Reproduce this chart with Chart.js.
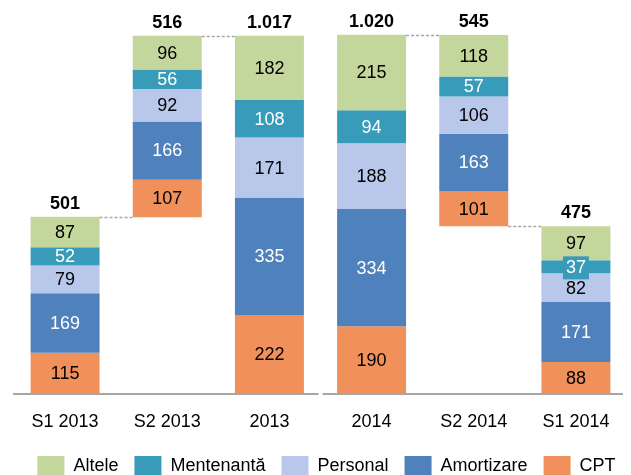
<!DOCTYPE html>
<html>
<head>
<meta charset="utf-8">
<script src="https://cdn.jsdelivr.net/npm/chart.js@4/dist/chart.umd.min.js"></script>
<style>
html,body{margin:0;padding:0;background:#fff;}
#wrap{width:631px;height:475px;}
</style>
</head>
<body>
<div id="wrap"><canvas id="c" width="631" height="475"></canvas></div>
<script>
const categories = ['S1 2013', 'S2 2013', '2013', '2014', 'S2 2014', 'S1 2014'];
const altele     = [87, 96, 182, 215, 118, 97];
const mentenanta = [52, 56, 108, 94, 57, 37];
const personal   = [79, 92, 171, 188, 106, 82];
const amortizare = [169, 166, 335, 334, 163, 171];
const cpt        = [115, 107, 222, 190, 101, 88];
const totals     = [501, 516, 1017, 1020, 545, 475];
const offsets    = [0, 501, 0, 0, 475, 0];
const totalLabels = ['501', '516', '1.017', '1.020', '545', '475'];
// connectors: [from category, to category, value]
const connectors = [[0, 1, 501], [1, 2, 1017], [3, 4, 1020], [4, 5, 475]];

const seriesNames  = ['Altele', 'Mentenantă', 'Personal', 'Amortizare', 'CPT'];
const seriesValues = [altele, mentenanta, personal, amortizare, cpt];
const seriesColors = ['#C3D69B', '#399BBA', '#B9C7EB', '#4F81BD', '#F0905A'];
const labelColors  = ['#000', '#fff', '#000', '#fff', '#000'];

// build floating ranges, stacking from bottom (CPT) up
const datasets = seriesNames.map((name, i) => {
  const data = categories.map((_, j) => {
    let start = offsets[j];
    for (let k = seriesValues.length - 1; k > i; k--) start += seriesValues[k][j];
    return [start, start + seriesValues[i][j]];
  });
  return {
    label: name,
    data,
    backgroundColor: seriesColors[i],
    borderWidth: 0,
    categoryPercentage: 0.675,
    barPercentage: 1
  };
});

const FONT = '"Liberation Sans", Arial, sans-serif';

const overlay = {
  id: 'overlay',
  afterLayout(chart) {
    const lg = chart.legend;
    if (lg) { lg.left += 6; lg.right += 6; lg.top -= 3; lg.bottom -= 3; }
  },
  afterDatasetsDraw(chart) {
    const ctx = chart.ctx;
    const y = chart.scales.y;
    const area = chart.chartArea;
    ctx.save();
    // segment labels
    ctx.textAlign = 'center';
    ctx.textBaseline = 'middle';
    ctx.font = '18px ' + FONT;
    chart.data.datasets.forEach((ds, i) => {
      const meta = chart.getDatasetMeta(i);
      meta.data.forEach((bar, j) => {
        const v = seriesValues[i][j];
        const top = Math.min(bar.y, bar.base), bot = Math.max(bar.y, bar.base);
        const cy = (top + bot) / 2 + 1;
        const txt = String(v);
        if (bot - top < 16) {
          const w = ctx.measureText(txt).width + 6;
          ctx.fillStyle = seriesColors[i];
          ctx.fillRect(bar.x - w / 2, cy - 11.5, w, 23);
        }
        ctx.fillStyle = labelColors[i];
        ctx.fillText(txt, bar.x, cy);
      });
    });
    // totals
    ctx.font = 'bold 18px ' + FONT;
    ctx.fillStyle = '#000';
    const topMeta = chart.getDatasetMeta(0);
    topMeta.data.forEach((bar, j) => {
      const top = y.getPixelForValue(offsets[j] + totals[j]);
      ctx.fillText(totalLabels[j], bar.x, top - 13);
    });
    // connectors
    ctx.strokeStyle = '#A6A6A6';
    ctx.lineWidth = 1.5;
    ctx.setLineDash([3, 2]);
    connectors.forEach(([a, b, v]) => {
      const ba = topMeta.data[a], bb = topMeta.data[b];
      const py = Math.round(y.getPixelForValue(v)) + 0.5;
      ctx.beginPath();
      ctx.moveTo(ba.x + ba.width / 2, py);
      ctx.lineTo(bb.x - bb.width / 2, py);
      ctx.stroke();
    });
    // baseline with a gap between 2013 and 2014
    ctx.setLineDash([]);
    ctx.strokeStyle = '#A6A6A6';
    ctx.lineWidth = 2;
    const x = chart.scales.x;
    const mid = (x.getPixelForValue(2) + x.getPixelForValue(3)) / 2;
    const by = area.bottom + 1;
    ctx.beginPath();
    ctx.moveTo(area.left - 1, by);
    ctx.lineTo(mid - 2, by);
    ctx.moveTo(mid + 2, by);
    ctx.lineTo(area.right - 4, by);
    ctx.stroke();
    ctx.restore();
  }
};

new Chart(document.getElementById('c'), {
  type: 'bar',
  data: { labels: categories, datasets },
  options: {
    responsive: false,
    animation: false,
    layout: { padding: { top: 7, left: 14, right: 4, bottom: -14 } },
    scales: {
      x: {
        stacked: true,
        grid: { display: false, drawTicks: false },
        border: { display: false },
        ticks: { color: '#000', font: { family: FONT, size: 18 }, padding: 18, maxRotation: 0 },
        afterFit(s) { s.height = 50; }
      },
      y: {
        stacked: false,
        display: false,
        min: 0,
        max: 1100
      }
    },
    plugins: {
      legend: {
        position: 'bottom',
        labels: {
          boxWidth: 27,
          boxHeight: 20,
          padding: 16,
          color: '#000',
          font: { family: FONT, size: 18 }
        }
      },
      tooltip: { enabled: false }
    }
  },
  plugins: [overlay]
});
</script>
</body>
</html>
